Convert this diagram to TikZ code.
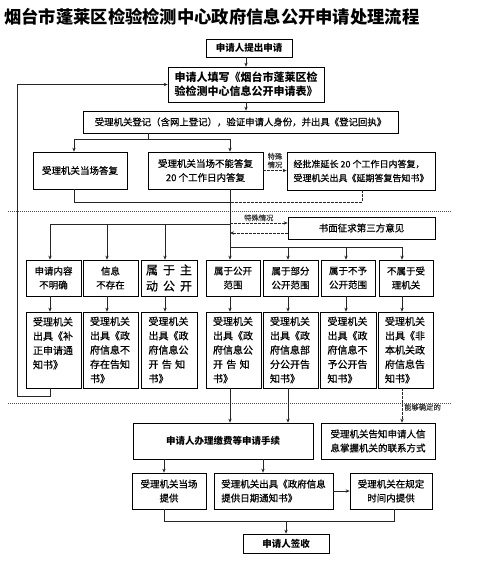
\documentclass[tikz,border=0pt]{standalone}
\usepackage{fontspec}
\setmainfont{Noto Sans CJK SC}[UprightFeatures={FakeBold=0.5}]
\usetikzlibrary{arrows.meta}
\begin{document}
\begin{tikzpicture}[x=1pt,y=-1pt,
  box/.style={draw=black, line width=0.7pt, fill=white, inner sep=0pt, align=center, font=\fontsize{9.5pt}{14pt}\selectfont},
  bbox/.style={box, font=\bfseries\fontsize{9.5pt}{14pt}\selectfont},
  tall/.style={box, align=left, text width=41pt, minimum height=76pt, font=\fontsize{10pt}{14.3pt}\selectfont},
  rowa/.style={box, minimum height=36pt},
  arr/.style={line width=0.6pt, draw=black!85, -{Stealth[length=4pt,width=3.4pt]}},
  ln/.style={line width=0.6pt, draw=black!85},
  darr/.style={arr, dash pattern=on 2.5pt off 1.5pt},
  dln/.style={ln, dash pattern=on 2.5pt off 1.5pt},
  sep/.style={line width=0.6pt, draw=black!70, dash pattern=on 1pt off 1pt},
  lbl/.style={inner sep=1pt, text=black!80, font=\fontsize{7.3pt}{8.5pt}\selectfont, align=center}]
\useasboundingbox (0,0) rectangle (500,583);
\fill[white] (0,0) rectangle (500,583);

% title
\node[font=\bfseries\fontsize{17.3pt}{20pt}\selectfont, inner sep=0pt, anchor=west] (title) at (4,17) {烟台市蓬莱区检验检测中心政府信息公开申请处理流程};

% column coordinates
\coordinate (c246) at (246,0);
\coordinate (c148) at (148,0);
\coordinate (cL) at (74,0);
\coordinate (c362) at (362,0);
\coordinate (k1) at (50,0);
\coordinate (k2) at (107,0);
\coordinate (k3) at (165,0);
\coordinate (k4) at (230,0);
\coordinate (k5) at (288,0);
\coordinate (k6) at (346,0);
\coordinate (k7) at (402,0);
\coordinate (m1) at (164,0);
\coordinate (m2) at (263,0);
\coordinate (m3) at (394,0);

% top boxes
\node[bbox, minimum width=86pt, minimum height=18pt] (n1) at (249,48) {申请人提出申请};
\node[bbox, minimum width=156pt, minimum height=35pt, font=\bfseries\fontsize{11pt}{14pt}\selectfont] (n2) at (246,84.5) {申请人填写《烟台市蓬莱区检\\验检测中心信息公开申请表》};
\node[box, minimum width=315pt, minimum height=22pt, font=\fontsize{9.4pt}{12pt}\selectfont] (n3) at (240.5,122) {受理机关登记（含网上登记），验证申请人身份，并出具《登记回执》};
\node[box, minimum width=94pt, minimum height=37pt] (n4) at (80,170.5) {受理机关当场答复};
\node[box, minimum width=115pt, minimum height=37pt] (n5) at (205.5,170.5) {受理机关当场不能答复\\20 个工作日内答复};
\node[box, minimum width=148pt, minimum height=38pt, align=left, font=\fontsize{9pt}{14pt}\selectfont] (n6) at (361,171) {经批准延长 20 个工作日内答复，\\受理机关出具《延期答复告知书》};
\node[box, minimum width=147pt, minimum height=22pt] (n7) at (361.5,228) {书面征求第三方意见};

% row a
\node[rowa, minimum width=55pt] (a1) at (53.5,278) {申请内容\\不明确};
\node[rowa, minimum width=55pt] (a2) at (110.5,278) {信息\\不存在};
\node[rowa, minimum width=56pt, font=\fontsize{12pt}{16pt}\selectfont] (a3) at (169,278) {属\hspace{5pt}于\hspace{5pt}主\\动\hspace{5pt}公\hspace{5pt}开};
\node[rowa, minimum width=54pt] (a4) at (233,278) {属于公开\\范围};
\node[rowa, minimum width=55pt] (a5) at (290.5,278) {属于部分\\公开范围};
\node[rowa, minimum width=54pt] (a6) at (348,278) {属于不予\\公开范围};
\node[rowa, minimum width=54pt] (a7) at (406,278) {不属于受\\理机关};

% row b
\node[tall, minimum width=55pt] (b1) at (53.5,350) {受理机关\\出具《补\\正申请通\\知书》\\\mbox{}};
\node[tall, minimum width=55pt] (b2) at (110.5,350) {受理机关\\出具《政\\府信息不\\存在告知\\书》};
\node[tall, minimum width=56pt] (b3) at (169,350) {受理机关\\出具《政\\府信息公\\\makebox[40pt][s]{开 告 知}\\书》};
\node[tall, minimum width=55pt] (b4) at (233.5,350) {受理机关\\出具《政\\府信息公\\\makebox[40pt][s]{开 告 知}\\书》};
\node[tall, minimum width=55pt] (b5) at (290.5,350) {受理机关\\出具《政\\府信息部\\分公开告\\知书》};
\node[tall, minimum width=56pt] (b6) at (348,350) {受理机关\\出具《政\\府信息不\\予公开告\\知书》};
\node[tall, minimum width=55pt] (b7) at (405.5,350) {受理机关\\出具《非\\本机关政\\府信息告\\知书》};

% lower boxes
\node[bbox, minimum width=180pt, minimum height=36pt] (d) at (223,441) {申请人办理缴费等申请手续};
\node[box, minimum width=114pt, minimum height=36pt] (e) at (378,441) {受理机关告知申请人信\\息掌握机关的联系方式};
\node[box, minimum width=74pt, minimum height=36pt] (c1) at (169,491) {受理机关当场\\提供};
\node[box, minimum width=119pt, minimum height=36pt, align=left] (c2) at (273.5,491) {受理机关出具《政府信息\\提供日期通知书》};
\node[box, minimum width=82pt, minimum height=36pt] (c3) at (391,491) {受理机关在规定\\时间内提供};
\node[bbox, minimum width=86pt, minimum height=19pt] (f) at (286,543.5) {申请人签收};

% separators
\draw[sep] (8,211) -- (452,211);
\draw[sep] (8,403) -- (452,403);

% connectors top
\draw[arr] (n1.south -| c246) -- (n2.north -| c246);
\draw[arr] (n2.south -| c246) -- (n3.north -| c246);
\coordinate (j1) at (148,139);
\draw[ln] (n3.south -| c148) -- (j1);
\draw[arr] (j1) -| (n4.north -| cL);
\draw[arr] (j1) -| (n5.north -| k4);
\draw[darr] (n5.east) -- (n5.east -| n6.west) node[lbl, midway, above=1pt] {特殊\\情况};
\coordinate (j2) at (230,202);
\draw[ln] (n4.south -| cL) |- (j2);
\draw[dln] (n6.south -| c362) |- (j2);
\draw[arr] (n5.south -| k4) -- (a4.north -| k4);

% third party
\coordinate (t1) at (230,223);
\coordinate (t2) at (230,233);
\draw[darr] (t1) -- (t1 -| n7.west) node[lbl, midway, above=0.5pt] {特殊情况};
\draw[darr] (t2 -| n7.west) -- (t2);

% branches to row a
\coordinate (j3) at (230,224);
\draw[arr] (j3) -| (a1.north -| k1);
\draw[arr] (j3 -| k2) -- (a2.north -| k2);
\draw[arr] (j3 -| k3) -- (a3.north -| k3);
\coordinate (j4) at (230,247);
\draw[arr] (j4) -| (a7.north -| k7);
\draw[arr] (j4 -| k5) -- (a5.north -| k5);
\draw[arr] (j4 -| k6) -- (a6.north -| k6);

% row a -> row b
\draw[arr] (a1.south -| k1) -- (b1.north -| k1);
\draw[arr] (a2.south -| k2) -- (b2.north -| k2);
\draw[arr] (a3.south -| k3) -- (b3.north -| k3);
\draw[arr] (a4.south -| k4) -- (b4.north -| k4);
\draw[arr] (a5.south -| k5) -- (b5.north -| k5);
\draw[arr] (a6.south -| k6) -- (b6.north -| k6);
\draw[arr] (a7.south -| k7) -- (b7.north -| k7);

% loop back
\coordinate (lp) at (17,396);
\draw[arr] (b1.south -| k1) |- (lp) |- (n2.west);

% lower connectors
\draw[arr] (b4.south -| k4) -- (d.north -| k4);
\draw[arr] (b5.south -| k5) -- (d.north -| k5);
\draw[darr] (b7.south -| k7) -- (e.north -| k7) node[lbl, pos=0.55, right=1pt] {能够确定的};
\draw[arr] (d.south -| m1) -- (c1.north -| m1);
\draw[arr] (d.south -| m2) -- (c2.north -| m2);
\draw[arr] (c2.east) -- (c3.west);
\coordinate (j5) at (286,521);
\draw[ln] (c1.south -| m1) |- (j5);
\draw[ln] (c3.south -| m3) |- (j5);
\draw[arr] (j5) -- (f.north -| j5);
\end{tikzpicture}
\end{document}
